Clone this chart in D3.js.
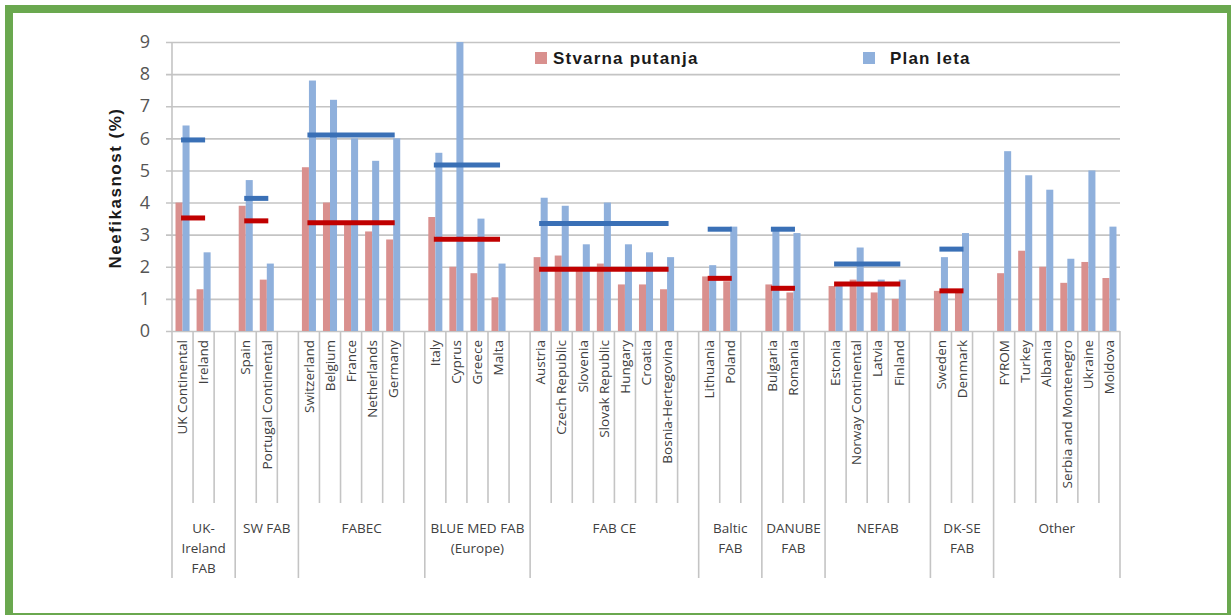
<!DOCTYPE html>
<html>
  <head>
    <title>Neefikasnost po FAB-ovima</title>
    <!-- Load D3 from CDN -->
    <script src="https://d3js.org/d3.v7.min.js" charset="utf-8"></script>
    <style type="text/css">
      html, body {
          margin: 0;
          padding: 0;
          background: #ffffff;
      }
      svg {
          display: block;
      }
      .catlabel {
          font-family: "Open Sans", "Liberation Sans", sans-serif;
          font-size: 13.5px;
          fill: #404040;
      }
      .grplabel {
          font-family: "Open Sans", "Liberation Sans", sans-serif;
          font-size: 13.5px;
          fill: #404040;
      }
      .legend, .ytitle {
          font-family: "Liberation Sans", Arial, sans-serif;
          font-weight: bold;
          fill: #1a1a1a;
      }
    </style>
  </head>

  <body>
    <script type="text/javascript">

      // FAB groups (label lines) and the countries in each one
      var groupLabels = [
        ["UK-", "Ireland", "FAB"],
        ["SW FAB"],
        ["FABEC"],
        ["BLUE MED FAB", "(Europe)"],
        ["FAB CE"],
        ["Baltic", "FAB"],
        ["DANUBE", "FAB"],
        ["NEFAB"],
        ["DK-SE", "FAB"],
        ["Other"]
      ];
      var groupCountries = [
        ["UK Continental", "Ireland"],
        ["Spain", "Portugal Continental"],
        ["Switzerland", "Belgium", "France", "Netherlands", "Germany"],
        ["Italy", "Cyprus", "Greece", "Malta"],
        ["Austria", "Czech Republic", "Slovenia", "Slovak Republic", "Hungary", "Croatia", "Bosnia-Hertegovina"],
        ["Lithuania", "Poland"],
        ["Bulgaria", "Romania"],
        ["Estonia", "Norway Continental", "Latvia", "Finland"],
        ["Sweden", "Denmark"],
        ["FYROM", "Turkey", "Albania", "Serbia and Montenegro", "Ukraine", "Moldova"]
      ];

      // Stvarna putanja (actual trajectory), one value per country, in order
      var stvarna = [
        4.0, 1.3,
        3.9, 1.6,
        5.1, 4.0, 3.4, 3.1, 2.85,
        3.55, 2.0, 1.8, 1.05,
        2.3, 2.35, 1.95, 2.1, 1.45, 1.45, 1.3,
        1.7, 1.55,
        1.45, 1.2,
        1.4, 1.6, 1.2, 1.0,
        1.25, 1.2,
        1.8, 2.5, 2.0, 1.5, 2.15, 1.65
      ];
      // Plan leta (flight plan)
      var planLeta = [
        6.4, 2.45,
        4.7, 2.1,
        7.8, 7.2, 6.0, 5.3, 6.0,
        5.55, 9.0, 3.5, 2.1,
        4.15, 3.9, 2.7, 4.0, 2.7, 2.45, 2.3,
        2.05, 3.25,
        3.15, 3.05,
        1.4, 2.6, 1.6, 1.6,
        2.3, 3.05,
        5.6, 4.85, 4.4, 2.25, 5.0, 3.25
      ];
      // FAB averages (no average for "Other")
      var avgStvarna = [3.52, 3.43, 3.37, 2.86, 1.92, 1.64, 1.33, 1.46, 1.25, null];
      var avgPlan = [5.95, 4.13, 6.1, 5.17, 3.35, 3.17, 3.17, 2.09, 2.55, null];

      var yTicks = [0, 1, 2, 3, 4, 5, 6, 7, 8, 9];
      var seriesNames = ["Stvarna putanja", "Plan leta"];

      // Setup size
      var width = 1231;
      var height = 615;
      var svg = d3.select("body")
          .append("svg")
          .attr("width", width)
          .attr("height", height);

      // Green frame
      svg.append("rect")
          .attr("x", 9)
          .attr("y", 9)
          .attr("width", 1222)
          .attr("height", 608)
          .style("fill", "none")
          .style("stroke", "#6aa84f")
          .attr("stroke-width", 8);

      // Build the slots: countries, with an empty slot closing each group (not the last)
      var slots = [];
      var rows = [];
      var groupSpans = [];
      var k = 0;
      groupCountries.forEach(function(list, gi) {
        var first = slots.length;
        list.forEach(function(c) {
          slots.push(c);
          rows.push({ name: c, group: gi, s: stvarna[k], p: planLeta[k] });
          k++;
        });
        if (gi < groupCountries.length - 1) slots.push("gap" + gi);
        groupSpans.push({ gi: gi, first: first, last: first + list.length - 1, end: slots.length });
      });

      var left = 172, right = 1120;
      var x = d3.scaleBand().domain(slots).range([left, right]).padding(0);
      var inner = d3.scaleBand().domain(["s", "p"]).range([0, x.bandwidth()])
          .paddingInner(0).paddingOuter(0.5);
      var y = d3.scaleLinear().domain([0, 9]).range([331, 42]);

      // Grid lines and tick labels
      var yAxis = d3.axisLeft(y)
          .tickValues(yTicks)
          .tickSize(-(right - 166))
          .tickPadding(16)
          .tickFormat(d3.format("d"));
      var gy = svg.append("g")
          .attr("transform", "translate(166,0)")
          .call(yAxis);
      gy.select(".domain").remove();
      gy.selectAll(".tick line")
          .style("stroke", "#c4c4c4")
          .style("stroke-width", 1.6);
      gy.selectAll(".tick text")
          .style("font-family", "'Open Sans', 'Liberation Sans', sans-serif")
          .style("font-size", "18px")
          .style("fill", "#555555");

      // Vertical axis line
      svg.append("line")
          .attr("x1", left).attr("x2", left)
          .attr("y1", y(9)).attr("y2", y(0))
          .style("stroke", "#c4c4c4")
          .style("stroke-width", 1.6);

      // Category separator lines (long ones close a group)
      var boundaries = [];
      slots.forEach(function(s, i) { boundaries.push(i); });
      boundaries.push(slots.length);
      var groupEnds = [0].concat(groupSpans.map(function(g) { return g.end; }));
      svg.append("g").selectAll("line")
          .data(boundaries)
          .enter().append("line")
          .attr("x1", function(i) { return left + i * x.step(); })
          .attr("x2", function(i) { return left + i * x.step(); })
          .attr("y1", y(0))
          .attr("y2", function(i) { return groupEnds.indexOf(i) >= 0 ? 578 : 503; })
          .style("stroke", "#c4c4c4")
          .style("stroke-width", 1.6);

      // Bars
      var bars = svg.append("g");
      bars.selectAll("rect.s")
          .data(rows)
          .enter().append("rect")
          .attr("class", "s")
          .attr("x", function(d) { return x(d.name) + inner("s"); })
          .attr("width", inner.bandwidth())
          .attr("y", function(d) { return y(d.s); })
          .attr("height", function(d) { return y(0) - y(d.s); })
          .style("fill", "#d9908e");
      bars.selectAll("rect.p")
          .data(rows)
          .enter().append("rect")
          .attr("class", "p")
          .attr("x", function(d) { return x(d.name) + inner("p"); })
          .attr("width", inner.bandwidth())
          .attr("y", function(d) { return y(d.p); })
          .attr("height", function(d) { return y(0) - y(d.p); })
          .style("fill", "#8fb0dc");

      // FAB average lines
      function avgLines(values, color) {
        svg.append("g").selectAll("line")
            .data(groupSpans.filter(function(g) { return values[g.gi] != null; }))
            .enter().append("line")
            .attr("x1", function(g) { return x(slots[g.first]) + x.bandwidth() / 2 - 1.5; })
            .attr("x2", function(g) { return x(slots[g.last]) + x.bandwidth() / 2 + 1.5; })
            .attr("y1", function(g) { return y(values[g.gi]); })
            .attr("y2", function(g) { return y(values[g.gi]); })
            .style("stroke", color)
            .style("stroke-width", 5);
      }
      avgLines(avgPlan, "#3a70b6");
      avgLines(avgStvarna, "#c00000");

      // Country labels
      svg.append("g").selectAll("text")
          .data(rows)
          .enter().append("text")
          .attr("class", "catlabel")
          .attr("transform", function(d) {
            return "translate(" + (x(d.name) + x.bandwidth() / 2) + ",340) rotate(-90)";
          })
          .attr("dy", "0.35em")
          .attr("text-anchor", "end")
          .text(function(d) { return d.name; });

      // Group labels
      var gl = svg.append("g").selectAll("text")
          .data(groupSpans)
          .enter().append("text")
          .attr("class", "grplabel")
          .attr("text-anchor", "middle")
          .attr("x", function(g) {
            var x0 = left + groupEnds[g.gi] * x.step();
            var x1 = left + g.end * x.step();
            return (x0 + x1) / 2;
          })
          .attr("y", 533);
      gl.selectAll("tspan")
          .data(function(g) {
            return groupLabels[g.gi].map(function(t) {
              return { t: t, x: left + (groupEnds[g.gi] + g.end) / 2 * x.step() };
            });
          })
          .enter().append("tspan")
          .attr("x", function(d) { return d.x; })
          .attr("dy", function(d, i) { return i === 0 ? 0 : 20; })
          .text(function(d) { return d.t; });

      // Y axis title
      svg.append("text")
          .attr("class", "ytitle")
          .attr("transform", "translate(121,188) rotate(-90)")
          .attr("text-anchor", "middle")
          .style("font-size", "17px")
          .style("letter-spacing", "1.5px")
          .text("Neefikasnost (%)");

      // Legend
      var legendX = [535, 863];
      var legendColors = ["#d9908e", "#8fb0dc"];
      var lg = svg.append("g").selectAll("g")
          .data(seriesNames)
          .enter().append("g")
          .attr("transform", function(d, i) { return "translate(" + legendX[i] + ",52)"; });
      lg.append("rect")
          .attr("width", 12)
          .attr("height", 12)
          .style("fill", function(d, i) { return legendColors[i]; });
      lg.append("text")
          .attr("class", "legend")
          .attr("x", function(d, i) { return i === 0 ? 18 : 27; })
          .attr("y", 12)
          .style("font-size", "17px")
          .style("letter-spacing", "1.2px")
          .text(function(d) { return d; });

    </script>
  </body>

</html>
